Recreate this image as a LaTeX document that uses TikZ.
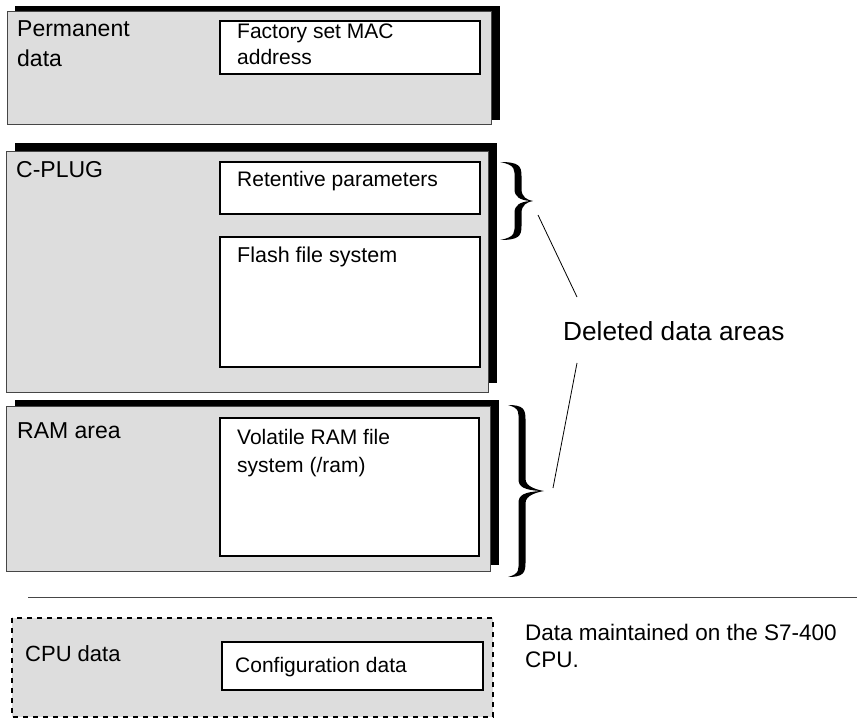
\documentclass[tikz,border=0pt]{standalone}
\usepackage{fontspec}
\setmainfont{Liberation Sans}
\definecolor{boxgray}{RGB}{221,221,221}
\definecolor{edgegray}{RGB}{70,70,70}
\newcommand\mybrace[5]{%
 \pgfmathsetmacro\ym{(#2+#3)/2}%
 \fill (#1,#2) .. controls (#4+1,#2) and (#4+3.5,#2+4) .. (#4+3.5,#2+14)
   -- (#4+3.5,\ym-12) .. controls (#4+3.5,\ym-4) and (#5-6,\ym-1) .. (#5,\ym)
   .. controls (#5-6,\ym+1) and (#4+3.5,\ym+4) .. (#4+3.5,\ym+12)
   -- (#4+3.5,#3-14) .. controls (#4+3.5,#3-4) and (#4+1,#3) .. (#1,#3)
   .. controls (#4-2,#3-3) and (#4-3.5,#3-8) .. (#4-3.5,#3-16)
   -- (#4-3.5,\ym+12) .. controls (#4-3.5,\ym+4) and (#4+2,\ym+1) .. (#5-3,\ym)
   .. controls (#4+2,\ym-1) and (#4-3.5,\ym-4) .. (#4-3.5,\ym-12)
   -- (#4-3.5,#2+16) .. controls (#4-3.5,#2+8) and (#4-2,#2+3) .. (#1,#2) -- cycle;}
\tikzset{
  shadowbox/.style={fill=black},
  areabox/.style={fill=boxgray, draw=edgegray, line width=1pt},
  innerbox/.style={fill=white, draw=black, line width=2pt},
  biglabel/.style={anchor=base west, inner sep=0pt, align=left, font=\fontsize{23}{30}\selectfont},
  smalllabel/.style={anchor=base west, inner sep=0pt, align=left, font=\fontsize{21}{27}\selectfont},
  leader/.style={draw=black, line width=0.8pt},
}
\begin{document}
\begin{tikzpicture}[x=1pt,y=-1pt]
\useasboundingbox (0,0) rectangle (857,719);
% Permanent data
\fill[shadowbox] (15,6) rectangle (500,120);
\draw[areabox] (7,12) rectangle (491,125);
\draw[innerbox] (220,21) rectangle (480,74);
\node[biglabel] (perm) at (17,67) {Permanent\\data};
\node[smalllabel, font=\fontsize{21}{26}\selectfont] (mac) at (237,65) {Factory set MAC\\address};
% C-PLUG
\fill[shadowbox] (15,143) rectangle (497,383);
\draw[areabox] (6,152) rectangle (488,392);
\draw[innerbox] (220,162) rectangle (480,214);
\draw[innerbox] (220,237) rectangle (480,367);
\node[biglabel] (cplug) at (16,178) {C-PLUG};
\node[smalllabel] (ret) at (237,187) {Retentive parameters};
\node[smalllabel, font=\fontsize{21.5}{27}\selectfont] (flash) at (237,263) {Flash file system};
% RAM area
\fill[shadowbox] (15,400) rectangle (499,565);
\draw[areabox] (6,406) rectangle (490,571);
\draw[innerbox] (220,418) rectangle (479,556);
\node[biglabel] (ram) at (17,438) {RAM area};
\node[smalllabel, font=\fontsize{21}{28}\selectfont] (vol) at (237,472) {Volatile RAM file\\system (/ram)};
% braces
\mybrace{500}{162}{240}{518}{533}
\mybrace{508}{405}{577}{522}{544}
% Deleted label and leaders
\node[anchor=base west, inner sep=0pt, font=\fontsize{26.2}{30}\selectfont] (del) at (563,341) {Deleted data areas};
\coordinate (b1) at (538,215);
\coordinate (d1) at (577,297);
\coordinate (d2) at (577,363);
\coordinate (b2) at (553,488);
\draw[leader] (b1) -- (d1);
\draw[leader] (d2) -- (b2);
% separator
\coordinate (s1) at (28,597);
\coordinate (s2) at (857,597);
\draw[draw=edgegray, line width=1pt] (s1) -- (s2);
% CPU data
\fill[boxgray] (12,618) rectangle (493,717);
\draw[line width=2pt, dash pattern=on 5pt off 5pt] (12,618) rectangle (493,717);
\draw[innerbox] (222,642) rectangle (483,690);
\node[anchor=base west, inner sep=0pt, font=\fontsize{22}{28}\selectfont] (cpu) at (25,661) {CPU data};
\node[anchor=base west, inner sep=0pt, font=\fontsize{21}{28}\selectfont] (conf) at (235,672) {Configuration data};
\node[anchor=base west, inner sep=0pt, align=left, font=\fontsize{22.5}{27}\selectfont] (maint) at (525,667) {Data maintained on the S7-400\\CPU.};
\end{tikzpicture}
\end{document}
